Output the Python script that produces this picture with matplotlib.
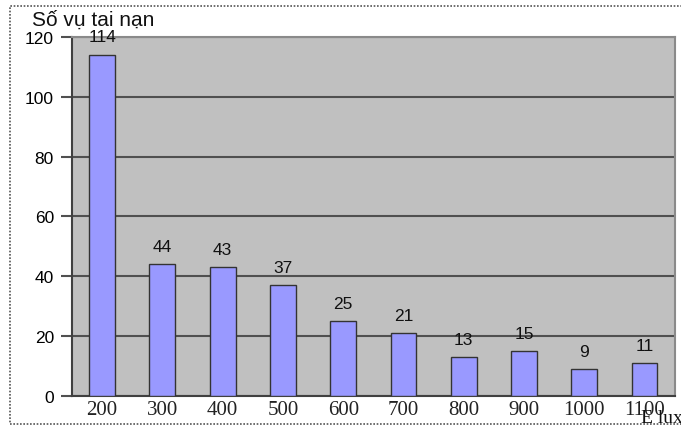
import matplotlib.pyplot as plt
from matplotlib.patches import Rectangle

# Accidents per illuminance level
lux_levels = ["200", "300", "400", "500", "600", "700", "800", "900", "1000", "1100"]
accidents = [114, 44, 43, 37, 25, 21, 13, 15, 9, 11]
y_ticks = [0, 20, 40, 60, 80, 100, 120]

fig = plt.figure(figsize=(6.81, 4.27), dpi=100)
ax = fig.add_axes([0.1057, 0.0703, 0.885, 0.841])

# Dotted frame around the whole chart
fig.patches.append(Rectangle((0.015, 0.004), 0.99, 0.98, transform=fig.transFigure,
                             fill=False, edgecolor="#555555", linewidth=1.2,
                             linestyle=(0, (1, 1))))

ax.set_facecolor("#c0c0c0")
x = range(len(lux_levels))
bars = ax.bar(x, accidents, width=0.43, color="#9999ff", edgecolor="#333333",
              linewidth=1.0, zorder=3)

for xi, v in zip(x, accidents):
    ax.text(xi, v + 3.5, str(v), ha="center", va="bottom", fontsize=12.5,
            family="Liberation Sans", color="#111111", zorder=4)

ax.set_xlim(-0.5, len(lux_levels) - 0.5)
ax.set_ylim(0, 120)
ax.set_yticks(y_ticks)
ax.set_yticklabels([str(t) for t in y_ticks], family="Liberation Sans", fontsize=12.5)
ax.yaxis.grid(True, color="#505050", linewidth=1.5, zorder=1)
ax.tick_params(axis="y", direction="out", length=8, width=1.5, color="#505050", pad=5)
ax.tick_params(axis="x", length=0, pad=3)
ax.set_xticks(list(x))
ax.set_xticklabels(lux_levels, family="Liberation Serif", fontsize=15, color="#222222")

for side in ["left", "bottom"]:
    ax.spines[side].set_color("#404040")
    ax.spines[side].set_linewidth(1.5)
for side in ["top", "right"]:
    ax.spines[side].set_color("#8a8a8a")
    ax.spines[side].set_linewidth(1.5)

fig.text(0.047, 0.976, "Số vụ tai nạn", ha="left", va="top", fontsize=15,
         family="Liberation Sans", color="#111111")
fig.text(0.941, 0.0, "E lux", ha="left", va="bottom", fontsize=14,
         family="Liberation Serif", color="#111111")

fig.savefig("out.png", dpi=100)
